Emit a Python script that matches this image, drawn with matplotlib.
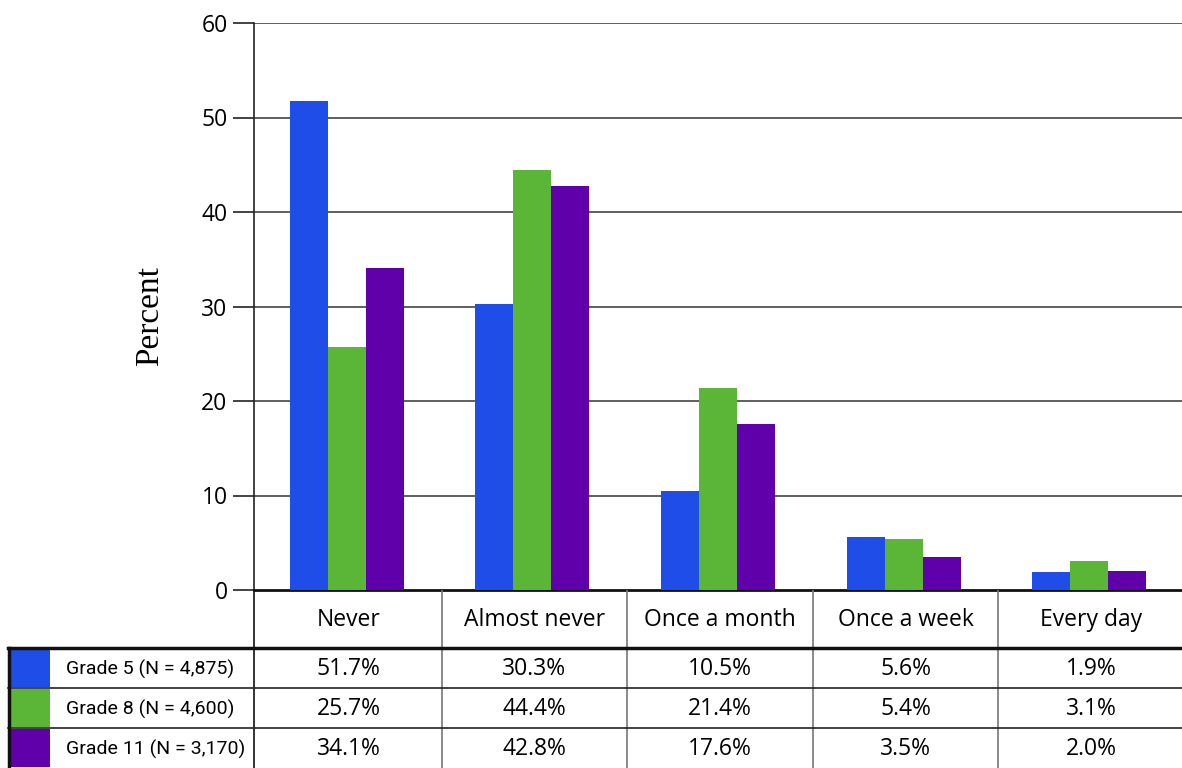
import matplotlib.pyplot as plt
import numpy as np
from matplotlib import font_manager

categories = ["Never", "Almost never", "Once a month", "Once a week", "Every day"]
grade5 = [51.7, 30.3, 10.5, 5.6, 1.9]
grade8 = [25.7, 44.4, 21.4, 5.4, 3.1]
grade11 = [34.1, 42.8, 17.6, 3.5, 2.0]
series_labels = ["Grade 5 (N = 4,875)", "Grade 8 (N = 4,600)", "Grade 11 (N = 3,170)"]
colors = ["#1f4de8", "#5bb536", "#6000ab"]
yticks = [0, 10, 20, 30, 40, 50, 60]

names = {f.name for f in font_manager.fontManager.ttflist}
narrow = "Liberation Sans Narrow" if "Liberation Sans Narrow" in names else "Roboto"
plt.rcParams["font.family"] = ["Open Sans", "DejaVu Sans"]

W, H = 1182, 768
fig = plt.figure(figsize=(W / 100, H / 100), dpi=100)

# plot area in pixel positions
x0, x1, ytop, ybot = 254, 1182, 23, 590
ax = fig.add_axes([x0 / W, 1 - ybot / H, (x1 - x0) / W, (ybot - ytop) / H])

series = [grade5, grade8, grade11]
x = np.arange(len(categories))
bw = 0.205
for i, (vals, c) in enumerate(zip(series, colors)):
    ax.bar(x + (i - 1) * bw, vals, width=bw, color=c, zorder=3)

ax.set_xlim(-0.5, len(categories) - 0.5)
ax.set_ylim(0, 60)
ax.set_yticks(yticks)
ax.set_xticks([])
ax.tick_params(axis="y", length=15, width=1.2, color="#222", labelsize=16.5, pad=4)
for v in yticks[1:]:
    ax.axhline(v, color="#444", lw=1.2, zorder=1)
for s in ["top", "right"]:
    ax.spines[s].set_visible(False)
ax.spines["left"].set_linewidth(1.2)
ax.spines["left"].set_color("#222")
ax.spines["bottom"].set_linewidth(2)
ax.spines["bottom"].set_color("#111")
ax.set_ylabel("Percent", family="Liberation Serif", fontsize=24, labelpad=26)
ax.yaxis.label.set_y(0.483)

# table underneath, drawn in pixel coords
tb = fig.add_axes([0, 0, 1, (H - ybot) / H])
tb.set_xlim(0, W)
tb.set_ylim(H, ybot)
tb.axis("off")

col_w = (x1 - x0) / len(categories)
edges = [x0 + k * col_w for k in range(len(categories) + 1)]
hdr_bot = 648
row_h = 40

tb.plot([x0, x0], [ybot, H], color="#111", lw=1.2)
for e in edges[1:-1]:
    tb.plot([e + 2, e + 2], [ybot, H], color="#777", lw=1.2)
tb.plot([8, W], [hdr_bot, hdr_bot], color="#111", lw=2.5)
for r in range(1, 3):
    yy = hdr_bot + r * row_h
    tb.plot([8, W], [yy, yy], color="#222", lw=1.2)
tb.plot([9, 9], [hdr_bot, H], color="#111", lw=2.5)

for k, cat in enumerate(categories):
    tb.text((edges[k] + edges[k + 1]) / 2 + 2, (ybot + hdr_bot) / 2 + 1, cat,
            ha="center", va="center", fontsize=16.5)

for r, (vals, lab, c) in enumerate(zip(series, series_labels, colors)):
    ytop_r = hdr_bot + r * row_h
    yc = ytop_r + row_h / 2
    tb.fill_between([10, 50], ytop_r + 1, ytop_r + row_h - 1, color=c, lw=0)
    tb.text(66, yc + 1, lab, ha="left", va="center", fontsize=14, family=narrow)
    for k, v in enumerate(vals):
        tb.text((edges[k] + edges[k + 1]) / 2 + 2, yc + 1, f"{v:.1f}%",
                ha="center", va="center", fontsize=16.5)

fig.savefig("out.png", dpi=100)
